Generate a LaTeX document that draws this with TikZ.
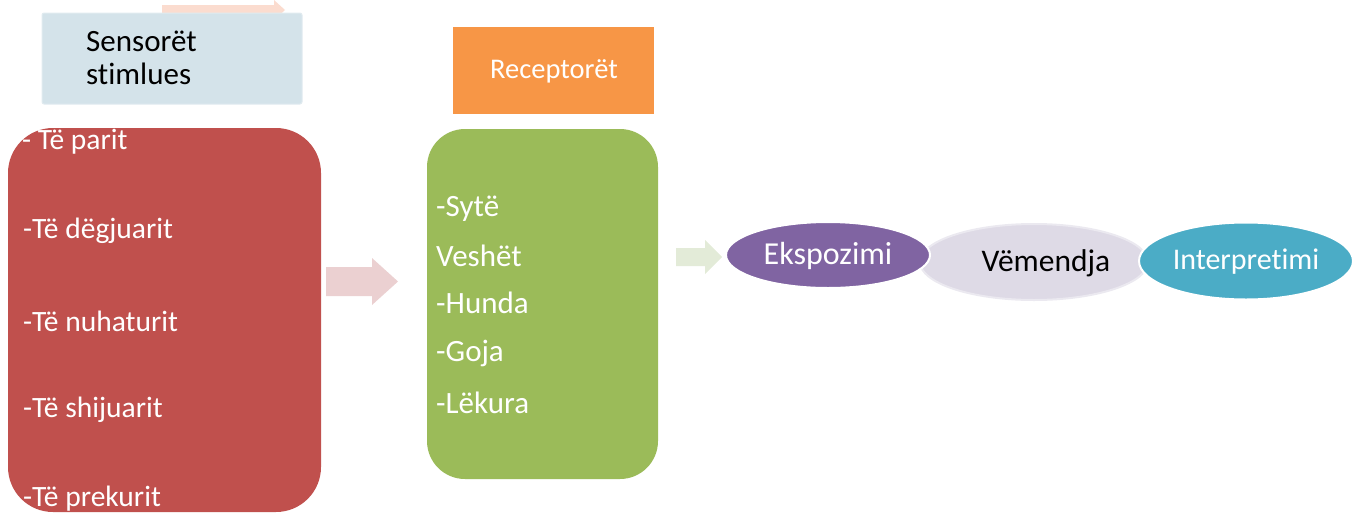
\documentclass[tikz,border=0pt]{standalone}
\usepackage{fontspec}
\setmainfont[Ligatures=NoCommon]{Carlito}
\usetikzlibrary{shapes.geometric}
\definecolor{cblue}{HTML}{D4E3EA}
\definecolor{cred}{HTML}{C0504D}
\definecolor{corange}{HTML}{F79646}
\definecolor{cgreen}{HTML}{9BBB59}
\definecolor{cpurple}{HTML}{8064A2}
\definecolor{clav}{HTML}{DEDAE6}
\definecolor{cteal}{HTML}{4BACC6}
\definecolor{cpink}{HTML}{EBD0D1}
\definecolor{csalmon}{HTML}{FBDCCF}
\definecolor{clgreen}{HTML}{E3EBD8}
\tikzset{
  wtext/.style={text=white, font=\fontsize{29.5}{34}\selectfont, anchor=west, inner sep=0},
  gtext/.style={text=white, font=\fontsize{31}{36}\selectfont, anchor=west, inner sep=0},
  ell/.style={ellipse, inner sep=0},
}
\begin{document}
\begin{tikzpicture}[x=1pt,y=-1pt]
\useasboundingbox (0,0) rectangle (1359,512);
% top small arrow
\fill[csalmon] (162,5) -- (274,5) -- (274,0) -- (285,10) -- (274,20) -- (274,15) -- (162,15) -- cycle;
% blue box
\node[draw=cblue!70!white, line width=1pt, fill=cblue, rounded corners=2pt, minimum width=260pt, minimum height=91pt, inner sep=0] (sens) at (172,58.5) {};
\node[anchor=west, inner sep=0, font=\fontsize{31}{33}\selectfont, align=left] (senst) at (86,58) {Sensorët\\stimlues};
% red box
\node[fill=cred, rounded corners=45pt, minimum width=313pt, minimum height=384pt, inner sep=0] (red) at (164.5,320) {};
\node[wtext] (r1) at (22,142) {- Të parit};
\node[wtext] (r2) at (23,231) {-Të dëgjuarit};
\node[wtext] (r3) at (23,321) {-Të nuhaturit};
\node[wtext] (r4) at (23,410) {-Të shijuarit};
\node[wtext] (r5) at (23,499) {-Të prekurit};
% pink arrow
\fill[cpink] (326,267) -- (372,267) -- (372,258) -- (398,281.5) -- (372,305) -- (372,296) -- (326,296) -- cycle;
% orange box
\node[fill=corange, minimum width=201pt, minimum height=87pt, inner sep=0] (rec) at (553.5,70.5) {};
\node[text=white, inner sep=0, font=\fontsize{28.5}{32}\selectfont] (rect) at (554,71) {Receptorët};
% green box
\node[fill=cgreen, rounded corners=38pt, minimum width=231pt, minimum height=350pt, inner sep=0] (green) at (542.5,304) {};
\node[gtext] (g1) at (436,209) {-Sytë};
\node[gtext] (g2) at (436,256) {Veshët};
\node[gtext] (g3) at (436,303) {-Hunda};
\node[gtext] (g4) at (436,353) {-Goja};
\node[gtext] (g5) at (436,403) {-Lëkura};
% light green arrow
\fill[clgreen] (676,248) -- (705,248) -- (705,240) -- (722,257) -- (705,274) -- (705,266) -- (676,266) -- cycle;
% ellipses
\node[ell, fill=clav, draw=clav!60!white, line width=2pt, minimum width=228pt, minimum height=76pt] (vem) at (1034,262) {};
\node[inner sep=0, font=\fontsize{31.5}{34}\selectfont] (vemt) at (1046,263) {Vëmendja};
\node[ell, fill=cpurple, draw=white, line width=2pt, minimum width=204pt, minimum height=66pt] (eks) at (828,255) {};
\node[inner sep=0, text=white, font=\fontsize{32}{34}\selectfont] (ekst) at (828,256) {Ekspozimi};
\node[ell, fill=cteal, draw=white, line width=2pt, minimum width=214pt, minimum height=77pt] (int) at (1246,261) {};
\node[inner sep=0, text=white, font=\fontsize{30}{34}\selectfont] (intt) at (1246,262) {Interpretimi};
\end{tikzpicture}
\end{document}
